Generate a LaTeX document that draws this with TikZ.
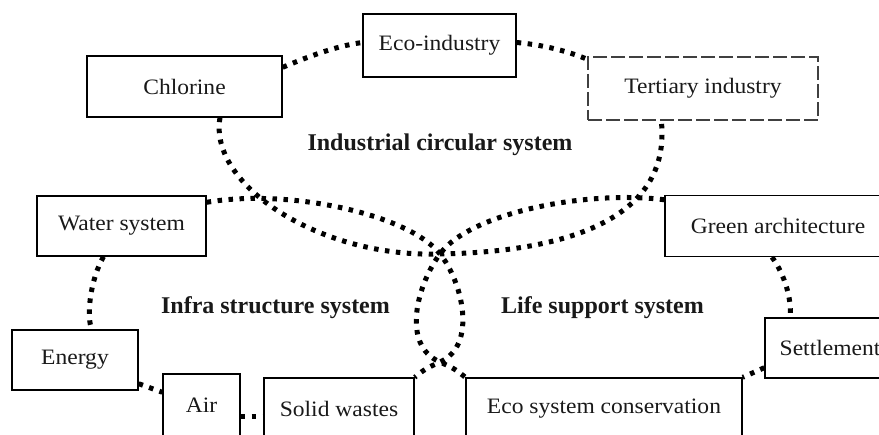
\documentclass[tikz,border=0pt]{standalone}
\usepackage{fontspec}
\setmainfont{Liberation Serif}[FakeStretch=1.07]
\newfontfamily\sysfont{Liberation Serif}
\usetikzlibrary{calc}
\tikzset{
  unit/.style={draw=black, line width=1.4pt, inner sep=0pt,
    font=\fontsize{22}{24}\selectfont, text=black!90},
  dashedunit/.style={unit, draw=black!75, dash pattern=on 14pt off 4pt},
  dotline/.style={line width=5pt, dash pattern=on 4.5pt off 6.5pt, draw=black},
  syslabel/.style={font=\sysfont\bfseries\fontsize{24}{26}\selectfont,
    text=black!90, inner sep=0pt}
}
\begin{document}
\begin{tikzpicture}[x=1pt,y=-1pt]
\useasboundingbox (0,0) rectangle (879,435);
\clip (0,0) rectangle (879,435);

% industrial units
\node[unit, minimum width=195pt, minimum height=61pt] (chl) at (184.5,86.5) {Chlorine};
\node[unit, minimum width=153pt, minimum height=63pt] (eco) at (439.5,45.5) {Eco-industry};
\node[dashedunit, minimum width=230pt, minimum height=63pt] (ter) at (703,88.5) {Tertiary industry};

% infrastructure units
\node[unit, minimum width=169pt, minimum height=60pt] (wat) at (121.5,226) {Water system};
\node[unit, minimum width=126pt, minimum height=60pt] (ene) at (75,360) {Energy};
\node[unit, minimum width=77pt, minimum height=62pt] (air) at (201.5,405) {Air};
\node[unit, minimum width=150pt, minimum height=62pt] (sol) at (339,409) {Solid wastes};

% life support units
\node[unit, minimum width=226pt, minimum height=61pt] (grn) at (778,226) {Green architecture};
\node[unit, minimum width=130pt, minimum height=60pt] (set) at (830,348) {Settlement};
\node[unit, minimum width=276pt, minimum height=62pt] (esc) at (604,409) {Eco system conservation};

% system titles
\node[syslabel] (ind) at (440,145) {Industrial circular system};
\node[syslabel] (inf) at (275.5,308) {Infra structure system};
\node[syslabel] (lif) at (602.5,308) {Life support system};

% crossing points of the three loops
\coordinate (xtop) at (440,254);
\coordinate (xbot) at (440,362);

% industrial loop
\draw[dotline] ($(chl.north east)+(0,12)$) .. controls (305,58) and (335,46) .. ($(eco.west)+(0,-3)$);
\draw[dotline] ($(eco.east)+(0,-3)$) .. controls (545,45) and (570,52) .. ($(ter.north west)+(0,3)$);
\draw[dotline] ($(chl.south)+(35.5,0)$) .. controls (208,185) and (320,258) .. (xtop)
  .. controls (560,252) and (672,222) .. ($(ter.south west)+(74,0)$);

% infrastructure loop
\draw[dotline] ($(wat.north east)+(0,7)$) .. controls (290,188) and (410,215) .. (xtop)
  .. controls (462,281) and (478,345) .. (xbot)
  .. controls (425,369) .. (sol.north east);
\draw[dotline] ($(wat.south)+(-18,0)$) .. controls (90,280) and (86,318) .. ($(ene.north)+(17,0)$);
\draw[dotline] ($(ene.south east)+(0,-7)$) -- ($(air.north west)+(0,19)$);
\draw[dotline] ($(air.east)+(0,12)$) -- ($(sol.west)+(0,8)$);

% life support loop
\draw[dotline] ($(grn.north west)+(0,5)$) .. controls (590,190) and (470,212) .. (xtop)
  .. controls (418,283) and (400,345) .. (xbot)
  .. controls (455,369) .. (esc.north west);
\draw[dotline] ($(grn.south)+(-6,0)$) .. controls (785,275) and (792,300) .. ($(set.north)+(-40,0)$);
\draw[dotline] ($(set.south west)+(0,-11)$) -- (esc.north east);
\end{tikzpicture}
\end{document}
